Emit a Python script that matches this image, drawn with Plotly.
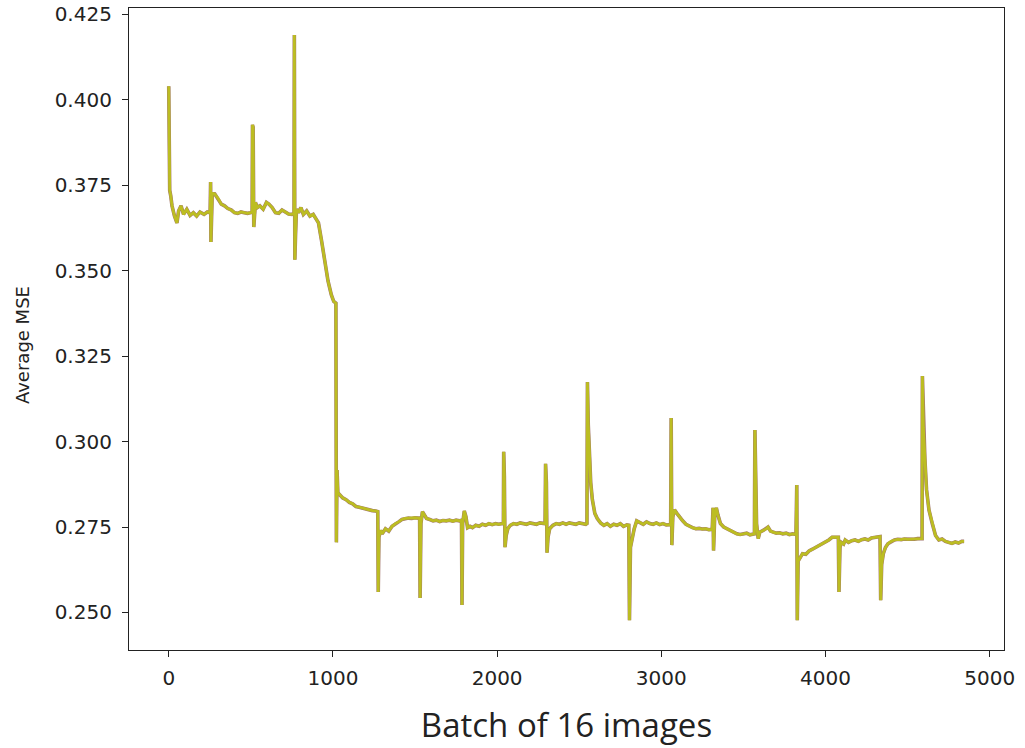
import plotly.graph_objects as go

batch = [0, 3, 6, 12, 20, 35, 50, 60, 75, 90, 110, 130, 150, 170, 190, 215, 235, 252,
         255, 257, 260, 265, 280, 300, 320, 340, 360, 380, 400, 420, 440, 460, 480, 500, 508,
         510, 514, 518, 522, 528, 540, 555, 575, 595, 610, 630, 650, 670, 690, 710, 730, 750, 763,
         765, 768, 772, 778, 790, 805, 820, 840, 860, 880, 900, 912, 930, 950, 970, 990, 1005, 1018,
         1021, 1025, 1030, 1040, 1060, 1080, 1100, 1120, 1140, 1160, 1180, 1200, 1220, 1240, 1260, 1273,
         1276, 1280, 1290, 1300, 1320, 1340, 1360, 1380, 1400, 1420, 1440, 1460, 1480, 1500, 1520, 1528,
         1531, 1536, 1545, 1555, 1570, 1590, 1610, 1630, 1650, 1670, 1690, 1710, 1730, 1750, 1770, 1783,
         1786, 1790, 1800, 1810, 1820, 1835, 1850, 1870, 1890, 1910, 1930, 1950, 1970, 1990, 2010, 2030, 2038,
         2040, 2044, 2048, 2055, 2065, 2080, 2100, 2120, 2140, 2160, 2180, 2200, 2220, 2240, 2260, 2280, 2292,
         2295, 2300, 2304, 2310, 2320, 2340, 2360, 2380, 2400, 2420, 2440, 2460, 2480, 2500, 2520, 2540, 2547,
         2550, 2555, 2562, 2570, 2580, 2595, 2610, 2630, 2650, 2670, 2690, 2710, 2730, 2750, 2770, 2790, 2802,
         2806, 2812, 2820, 2835, 2850, 2870, 2890, 2910, 2930, 2950, 2970, 2990, 3010, 3030, 3050, 3057,
         3060, 3064, 3070, 3080, 3095, 3110, 3130, 3150, 3170, 3190, 3210, 3230, 3250, 3270, 3290, 3310,
         3315, 3318, 3325, 3335, 3345, 3360, 3380, 3400, 3420, 3440, 3460, 3480, 3500, 3520, 3540, 3560, 3567,
         3570, 3574, 3580, 3590, 3600, 3620, 3640, 3650, 3665, 3680, 3700, 3720, 3740, 3760, 3780, 3800, 3820,
         3825, 3828, 3833, 3845, 3860, 3880, 3900, 3920, 3940, 3960, 3980, 4000, 4020, 4040, 4060, 4078,
         4082, 4088, 4095, 4110, 4120, 4140, 4160, 4180, 4200, 4220, 4240, 4260, 4280, 4300, 4320, 4332,
         4336, 4342, 4352, 4365, 4380, 4400, 4420, 4440, 4460, 4480, 4500, 4520, 4540, 4560, 4580, 4588,
         4590, 4596, 4605, 4615, 4630, 4650, 4670, 4690, 4710, 4730, 4750, 4770, 4790, 4810, 4830, 4844]

avg_mse = [0.4040, 0.3950, 0.3735, 0.3720, 0.3690, 0.3660, 0.3640, 0.3675, 0.3690, 0.3665, 0.3680, 0.3662, 0.3670, 0.3660, 0.3672, 0.3665, 0.3672, 0.3670,
           0.3760, 0.3584, 0.3700, 0.3727, 0.3725, 0.3712, 0.3695, 0.3690, 0.3682, 0.3678, 0.3670, 0.3668, 0.3672, 0.3670, 0.3668, 0.3670, 0.3672,
           0.3927, 0.3920, 0.3628, 0.3660, 0.3700, 0.3685, 0.3690, 0.3680, 0.3700, 0.3695, 0.3685, 0.3670, 0.3668, 0.3678, 0.3672, 0.3666, 0.3665, 0.3668,
           0.4190, 0.3532, 0.3600, 0.3680, 0.3670, 0.3685, 0.3665, 0.3675, 0.3660, 0.3665, 0.3650, 0.3640, 0.3590, 0.3530, 0.3470, 0.3430, 0.3410, 0.3405,
           0.2705, 0.2917, 0.2850, 0.2845, 0.2835, 0.2830, 0.2822, 0.2818, 0.2810, 0.2808, 0.2805, 0.2803, 0.2800, 0.2798, 0.2797, 0.2795,
           0.2560, 0.2720, 0.2740, 0.2730, 0.2745, 0.2738, 0.2752, 0.2760, 0.2765, 0.2772, 0.2775, 0.2776, 0.2775, 0.2777, 0.2776, 0.2776,
           0.2542, 0.2760, 0.2795, 0.2785, 0.2775, 0.2772, 0.2768, 0.2770, 0.2766, 0.2769, 0.2768, 0.2770, 0.2767, 0.2770, 0.2768, 0.2770,
           0.2522, 0.2760, 0.2797, 0.2780, 0.2748, 0.2752, 0.2748, 0.2755, 0.2752, 0.2758, 0.2755, 0.2760, 0.2757, 0.2760, 0.2758, 0.2760, 0.2760,
           0.2970, 0.2900, 0.2691, 0.2725, 0.2745, 0.2755, 0.2760, 0.2758, 0.2762, 0.2760, 0.2758, 0.2762, 0.2760, 0.2758, 0.2762, 0.2760, 0.2760,
           0.2935, 0.2880, 0.2675, 0.2720, 0.2745, 0.2755, 0.2760, 0.2758, 0.2762, 0.2758, 0.2762, 0.2760, 0.2758, 0.2762, 0.2760, 0.2758, 0.2760,
           0.3174, 0.3050, 0.2950, 0.2880, 0.2830, 0.2790, 0.2775, 0.2762, 0.2755, 0.2760, 0.2752, 0.2758, 0.2755, 0.2760, 0.2752, 0.2756, 0.2755,
           0.2477, 0.2690, 0.2712, 0.2745, 0.2768, 0.2762, 0.2758, 0.2765, 0.2760, 0.2758, 0.2762, 0.2757, 0.2760, 0.2756, 0.2758, 0.2757,
           0.3069, 0.2697, 0.2780, 0.2800, 0.2790, 0.2780, 0.2768, 0.2758, 0.2752, 0.2748, 0.2745, 0.2746, 0.2744, 0.2745, 0.2742, 0.2743,
           0.2806, 0.2681, 0.2780, 0.2806, 0.2785, 0.2760, 0.2750, 0.2745, 0.2740, 0.2735, 0.2730, 0.2728, 0.2730, 0.2732, 0.2727, 0.2728, 0.2730,
           0.3034, 0.2900, 0.2760, 0.2716, 0.2735, 0.2740, 0.2745, 0.2750, 0.2738, 0.2735, 0.2732, 0.2733, 0.2730, 0.2732, 0.2728, 0.2730, 0.2728,
           0.2873, 0.2477, 0.2650, 0.2660, 0.2672, 0.2670, 0.2680, 0.2685, 0.2690, 0.2695, 0.2700, 0.2705, 0.2712, 0.2720, 0.2721, 0.2720,
           0.2560, 0.2690, 0.2705, 0.2700, 0.2712, 0.2705, 0.2710, 0.2712, 0.2708, 0.2713, 0.2715, 0.2712, 0.2718, 0.2720, 0.2722, 0.2722,
           0.2536, 0.2640, 0.2672, 0.2690, 0.2701, 0.2708, 0.2712, 0.2714, 0.2713, 0.2715, 0.2714, 0.2715, 0.2714, 0.2716, 0.2716, 0.2716,
           0.3192, 0.3040, 0.2950, 0.2860, 0.2800, 0.2760, 0.2725, 0.2712, 0.2715, 0.2708, 0.2705, 0.2702, 0.2706, 0.2703, 0.2708, 0.2708]

x_ticks = [0, 1000, 2000, 3000, 4000, 5000]
y_ticks = [0.250, 0.275, 0.300, 0.325, 0.350, 0.375, 0.400, 0.425]
y_tick_labels = ["0.250", "0.275", "0.300", "0.325", "0.350", "0.375", "0.400", "0.425"]
x_title = "Batch of 16 images"
y_title = "Average MSE"

fig = go.Figure()
fig.add_trace(go.Scatter(x=batch, y=avg_mse, mode="lines",
                         line=dict(color="#8c564b", width=3.6), opacity=0.8,
                         showlegend=False, hoverinfo="skip"))
fig.add_trace(go.Scatter(x=batch, y=avg_mse, mode="lines",
                         line=dict(color="#bcbd22", width=2.8),
                         showlegend=False))

font_family = "DejaVu Sans"
fig.update_layout(
    width=1025, height=748,
    margin=dict(l=129, r=21, t=8, b=98, pad=0),
    paper_bgcolor="white", plot_bgcolor="white",
    font=dict(family=font_family, color="#222222", size=20),
    xaxis=dict(range=[-242, 5087], tickvals=x_ticks, ticks="outside", ticklen=6,
               tickcolor="#222", showgrid=False, zeroline=False, automargin=False,
               showline=True, linecolor="#222", linewidth=1.2, mirror=True,
               tickfont=dict(size=20), ticklabelstandoff=4,
               title=dict(text=x_title, font=dict(size=33, family="Open Sans"), standoff=24)),
    yaxis=dict(range=[0.2390, 0.4269], tickvals=y_ticks, ticktext=y_tick_labels,
               ticks="outside", ticklen=6, tickcolor="#222", automargin=False,
               showgrid=False, zeroline=False,
               showline=True, linecolor="#222", linewidth=1.2, mirror=True,
               tickfont=dict(size=20), ticklabelstandoff=6, ticklabeloverflow="allow"),
    annotations=[dict(text=y_title, textangle=-90, xref="paper", yref="paper",
                      x=-0.1223, y=0.475, xanchor="center", yanchor="middle",
                      showarrow=False, font=dict(size=18, family=font_family, color="#222222"))],
)

fig.write_html("out.html", config={"displayModeBar": False},
               post_script="document.body.style.margin='0px';")
